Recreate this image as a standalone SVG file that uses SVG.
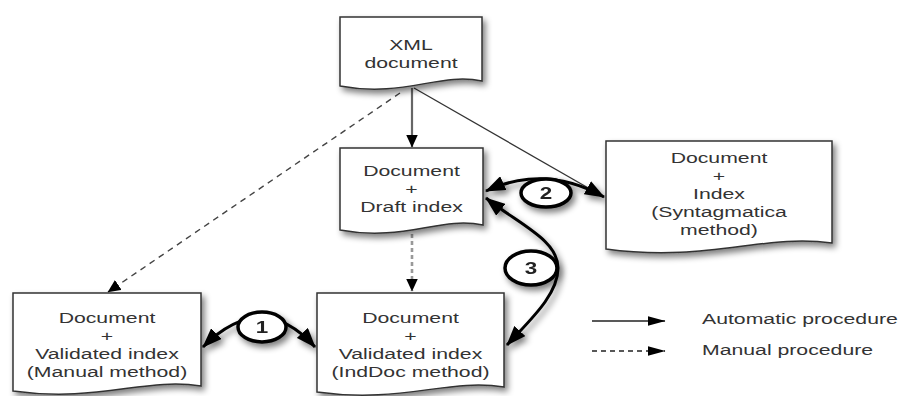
<svg xmlns="http://www.w3.org/2000/svg" width="900" height="396" viewBox="0 0 900 396">
  <defs>
    <filter id="shadow" x="-20%" y="-20%" width="150%" height="160%">
      <feGaussianBlur in="SourceAlpha" stdDeviation="3"/>
      <feOffset dx="3" dy="4" result="b"/>
      <feComponentTransfer><feFuncA type="linear" slope="0.5"/></feComponentTransfer>
      <feMerge><feMergeNode/><feMergeNode in="SourceGraphic"/></feMerge>
    </filter>
    <marker id="big" markerUnits="userSpaceOnUse" viewBox="0 0 20 15" markerWidth="20" markerHeight="15" refX="19" refY="7.5" orient="auto-start-reverse">
      <path d="M0,0 L20,7.5 L0,15 z" fill="#000"/>
    </marker>
    <marker id="small" markerUnits="userSpaceOnUse" viewBox="0 0 13 12" markerWidth="13" markerHeight="12" refX="12.5" refY="6" orient="auto">
      <path d="M0,0 L13,6 L0,12 z" fill="#000"/>
    </marker>
    <marker id="leg" markerUnits="userSpaceOnUse" viewBox="0 0 18 10" markerWidth="18" markerHeight="10" refX="17.5" refY="5" orient="auto">
      <path d="M0,0 L18,5 L0,10 z" fill="#000"/>
    </marker>
  </defs>
  <style>
    .doc { fill: #fff; stroke: #333; stroke-width: 1.5; }
    .lbl { font-family: "Liberation Sans", Arial, Helvetica, sans-serif; font-size: 15.5px; fill: #333; text-anchor: middle; }
    .leg { font-family: "Liberation Sans", Arial, Helvetica, sans-serif; font-size: 15.5px; fill: #333; text-anchor: start; }
    .num { font-family: "Liberation Sans", Arial, Helvetica, sans-serif; font-size: 16px; font-weight: bold; fill: #222; text-anchor: middle; }
    .ring { fill: #fff; stroke: #000; stroke-width: 3.5; }
    .thick { fill: none; stroke: #000; stroke-width: 3; }
  </style>
  <rect width="900" height="396" fill="#fff"/>

  <g id="connectors">
    <line x1="412" y1="88" x2="412" y2="147" stroke="#666" stroke-width="2.2" marker-end="url(#small)"/>
    <line x1="400" y1="93" x2="108" y2="292" stroke="#444" stroke-width="1.4" stroke-dasharray="6,5" marker-end="url(#small)"/>
    <line x1="412" y1="234" x2="412" y2="291" stroke="#999" stroke-width="2.6" stroke-dasharray="4,3" marker-end="url(#small)"/>
    <line x1="414" y1="88" x2="604" y2="197" stroke="#333" stroke-width="1.3"/>
    <g filter="url(#shadow)">
      <path class="thick" d="M203,347 Q262,288 315,347" marker-start="url(#big)" marker-end="url(#big)"/>
      <path class="thick" d="M486,191 Q545,164 604,197" marker-start="url(#big)" marker-end="url(#big)"/>
      <path class="thick" d="M486,198 C520,225 558,240 558,268 C558,295 530,320 507,345" marker-start="url(#big)" marker-end="url(#big)"/>
    </g>
  </g>

  <g id="label1" filter="url(#shadow)">
    <ellipse class="ring" cx="262" cy="327" rx="24" ry="15"/>
    <text class="num" transform="translate(262,333) scale(1.4,1)">1</text>
  </g>
  <g id="label2" filter="url(#shadow)">
    <ellipse class="ring" cx="546" cy="193" rx="25" ry="14"/>
    <text class="num" transform="translate(546,199) scale(1.4,1)">2</text>
  </g>
  <g id="label3" filter="url(#shadow)">
    <ellipse class="ring" cx="531" cy="268" rx="26" ry="17"/>
    <text class="num" transform="translate(531,274) scale(1.4,1)">3</text>
  </g>

  <g id="xml-document">
    <path class="doc" filter="url(#shadow)" d="M340,17 H482 V81 C439.4,72 403.9,98 340,86 Z"/>
    <text class="lbl" transform="translate(411,50) scale(1.37,1)"><tspan x="0">XML</tspan><tspan x="0" dy="18">document</tspan></text>
  </g>

  <g id="draft-index">
    <path class="doc" filter="url(#shadow)" d="M340,148 H483 V225 C440,216 404,242 340,230 Z"/>
    <text class="lbl" transform="translate(411.5,176) scale(1.37,1)"><tspan x="0">Document</tspan><tspan x="0" dy="18">+</tspan><tspan x="0" dy="18">Draft index</tspan></text>
  </g>

  <g id="syntagmatica">
    <path class="doc" filter="url(#shadow)" d="M606,141 H832 V243 C764,233 708,263 606,249 Z"/>
    <text class="lbl" transform="translate(719,163) scale(1.37,1)"><tspan x="0">Document</tspan><tspan x="0" dy="18">+</tspan><tspan x="0" dy="18">Index</tspan><tspan x="0" dy="18">(Syntagmatica</tspan><tspan x="0" dy="18">method)</tspan></text>
  </g>

  <g id="manual-method">
    <path class="doc" filter="url(#shadow)" d="M13,293 H201 V386 C145,377 98,403 13,391 Z"/>
    <text class="lbl" transform="translate(107,323) scale(1.37,1)"><tspan x="0">Document</tspan><tspan x="0" dy="18">+</tspan><tspan x="0" dy="18">Validated index</tspan><tspan x="0" dy="18">(Manual method)</tspan></text>
  </g>

  <g id="inddoc-method">
    <path class="doc" filter="url(#shadow)" d="M317,293 H504 V387 C448,378 401,404 317,392 Z"/>
    <text class="lbl" transform="translate(410.5,323) scale(1.37,1)"><tspan x="0">Document</tspan><tspan x="0" dy="18">+</tspan><tspan x="0" dy="18">Validated index</tspan><tspan x="0" dy="18">(IndDoc method)</tspan></text>
  </g>

  <g id="legend">
    <line x1="592" y1="321" x2="665" y2="321" stroke="#222" stroke-width="1.4" marker-end="url(#leg)"/>
    <line x1="592" y1="351" x2="665" y2="351" stroke="#222" stroke-width="1.4" stroke-dasharray="5,4" marker-end="url(#leg)"/>
    <text class="leg" transform="translate(702,324) scale(1.37,1)">Automatic procedure</text>
    <text class="leg" transform="translate(702,355) scale(1.37,1)">Manual procedure</text>
  </g>
</svg>
